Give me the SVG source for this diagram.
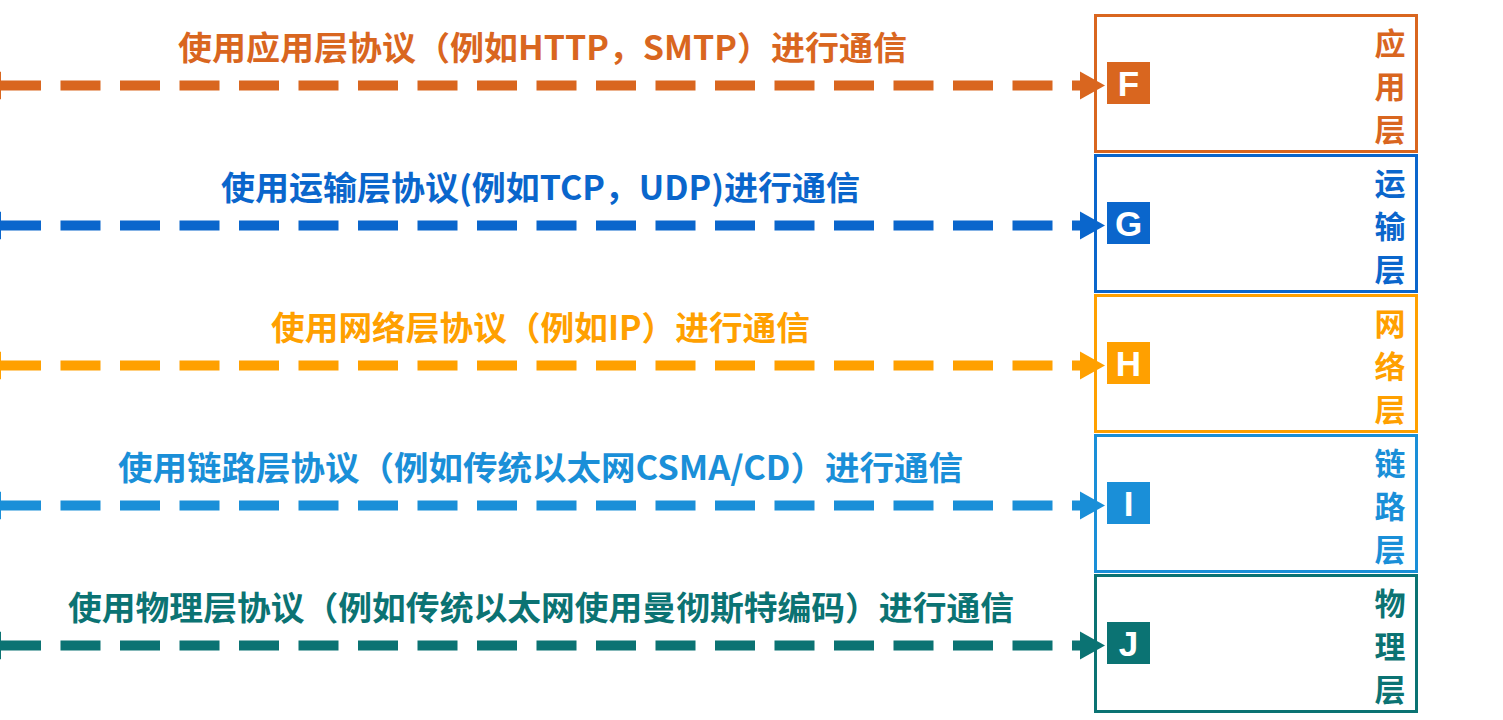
<svg xmlns="http://www.w3.org/2000/svg" width="1503" height="720" viewBox="0 0 1503 720">
<style>
.t{font-family:"Noto Sans CJK SC","Noto Sans",sans-serif;font-weight:bold;font-size:33px}
.lab{font-family:"Noto Sans CJK SC","Noto Sans",sans-serif;font-weight:bold;font-size:31px;text-anchor:middle}
.let{font-family:"Liberation Sans","DejaVu Sans",sans-serif;font-weight:bold;font-size:35px;text-anchor:middle;fill:#ffffff}
.ln{stroke-width:10;stroke-dasharray:40 19.5;fill:none}
.box{fill:#ffffff;stroke-width:3}
</style>
<defs>
<marker id="aF" markerUnits="userSpaceOnUse" markerWidth="26" markerHeight="30" refX="0" refY="15" orient="auto-start-reverse" viewBox="0 0 26 30"><path d="M0,1 L25,15 L0,29 z" fill="#D9661F"/></marker>
<marker id="aG" markerUnits="userSpaceOnUse" markerWidth="26" markerHeight="30" refX="0" refY="15" orient="auto-start-reverse" viewBox="0 0 26 30"><path d="M0,1 L25,15 L0,29 z" fill="#0A66CC"/></marker>
<marker id="aH" markerUnits="userSpaceOnUse" markerWidth="26" markerHeight="30" refX="0" refY="15" orient="auto-start-reverse" viewBox="0 0 26 30"><path d="M0,1 L25,15 L0,29 z" fill="#FFA000"/></marker>
<marker id="aI" markerUnits="userSpaceOnUse" markerWidth="26" markerHeight="30" refX="0" refY="15" orient="auto-start-reverse" viewBox="0 0 26 30"><path d="M0,1 L25,15 L0,29 z" fill="#1A8FD8"/></marker>
<marker id="aJ" markerUnits="userSpaceOnUse" markerWidth="26" markerHeight="30" refX="0" refY="15" orient="auto-start-reverse" viewBox="0 0 26 30"><path d="M0,1 L25,15 L0,29 z" fill="#0B7373"/></marker>
</defs>
<rect width="1503" height="720" fill="#ffffff"/>

<g id="nodeF">
<rect class="box" x="1095.5" y="15.5" width="321" height="136" stroke="#D9661F"/>
<rect x="1107" y="62" width="43" height="42" fill="#D9661F"/>
<text class="let" x="1128.5" y="96">F</text>
<text class="lab" fill="#D9661F"><tspan x="1390" y="55">应</tspan><tspan x="1390" y="98">用</tspan><tspan x="1390" y="141">层</tspan></text>
</g>
<g id="nodeG">
<rect class="box" x="1095.5" y="155.5" width="321" height="136" stroke="#0A66CC"/>
<rect x="1107" y="202" width="43" height="42" fill="#0A66CC"/>
<text class="let" x="1128.5" y="236">G</text>
<text class="lab" fill="#0A66CC"><tspan x="1390" y="195">运</tspan><tspan x="1390" y="238">输</tspan><tspan x="1390" y="281">层</tspan></text>
</g>
<g id="nodeH">
<rect class="box" x="1095.5" y="295.5" width="321" height="136" stroke="#FFA000"/>
<rect x="1107" y="342" width="43" height="42" fill="#FFA000"/>
<text class="let" x="1128.5" y="376">H</text>
<text class="lab" fill="#FFA000"><tspan x="1390" y="335">网</tspan><tspan x="1390" y="378">络</tspan><tspan x="1390" y="421">层</tspan></text>
</g>
<g id="nodeI">
<rect class="box" x="1095.5" y="435.5" width="321" height="136" stroke="#1A8FD8"/>
<rect x="1107" y="482" width="43" height="42" fill="#1A8FD8"/>
<text class="let" x="1128.5" y="516">I</text>
<text class="lab" fill="#1A8FD8"><tspan x="1390" y="475">链</tspan><tspan x="1390" y="518">路</tspan><tspan x="1390" y="561">层</tspan></text>
</g>
<g id="nodeJ">
<rect class="box" x="1095.5" y="575.5" width="321" height="136" stroke="#0B7373"/>
<rect x="1107" y="622" width="43" height="42" fill="#0B7373"/>
<text class="let" x="1128.5" y="656">J</text>
<text class="lab" fill="#0B7373"><tspan x="1390" y="615">物</tspan><tspan x="1390" y="658">理</tspan><tspan x="1390" y="701">层</tspan></text>
</g>

<g id="connectors">
<line class="ln" x1="1" y1="85.5" x2="1080" y2="85.5" stroke="#D9661F" marker-start="url(#aF)" marker-end="url(#aF)"/>
<text class="t" x="178" y="60" textLength="729" lengthAdjust="spacingAndGlyphs" fill="#D9661F">使用应用层协议（例如HTTP，SMTP）进行通信</text>
<line class="ln" x1="1" y1="225.5" x2="1080" y2="225.5" stroke="#0A66CC" marker-start="url(#aG)" marker-end="url(#aG)"/>
<text class="t" x="221" y="200" textLength="639" lengthAdjust="spacingAndGlyphs" fill="#0A66CC">使用运输层协议(例如TCP，UDP)进行通信</text>
<line class="ln" x1="1" y1="365.5" x2="1080" y2="365.5" stroke="#FFA000" marker-start="url(#aH)" marker-end="url(#aH)"/>
<text class="t" x="271" y="340" textLength="539" lengthAdjust="spacingAndGlyphs" fill="#FFA000">使用网络层协议（例如IP）进行通信</text>
<line class="ln" x1="1" y1="505.5" x2="1080" y2="505.5" stroke="#1A8FD8" marker-start="url(#aI)" marker-end="url(#aI)"/>
<text class="t" x="118" y="480" textLength="845" lengthAdjust="spacingAndGlyphs" fill="#1A8FD8">使用链路层协议（例如传统以太网CSMA/CD）进行通信</text>
<line class="ln" x1="1" y1="645.5" x2="1080" y2="645.5" stroke="#0B7373" marker-start="url(#aJ)" marker-end="url(#aJ)"/>
<text class="t" x="68" y="620" textLength="946" lengthAdjust="spacingAndGlyphs" fill="#0B7373">使用物理层协议（例如传统以太网使用曼彻斯特编码）进行通信</text>
</g>
</svg>
